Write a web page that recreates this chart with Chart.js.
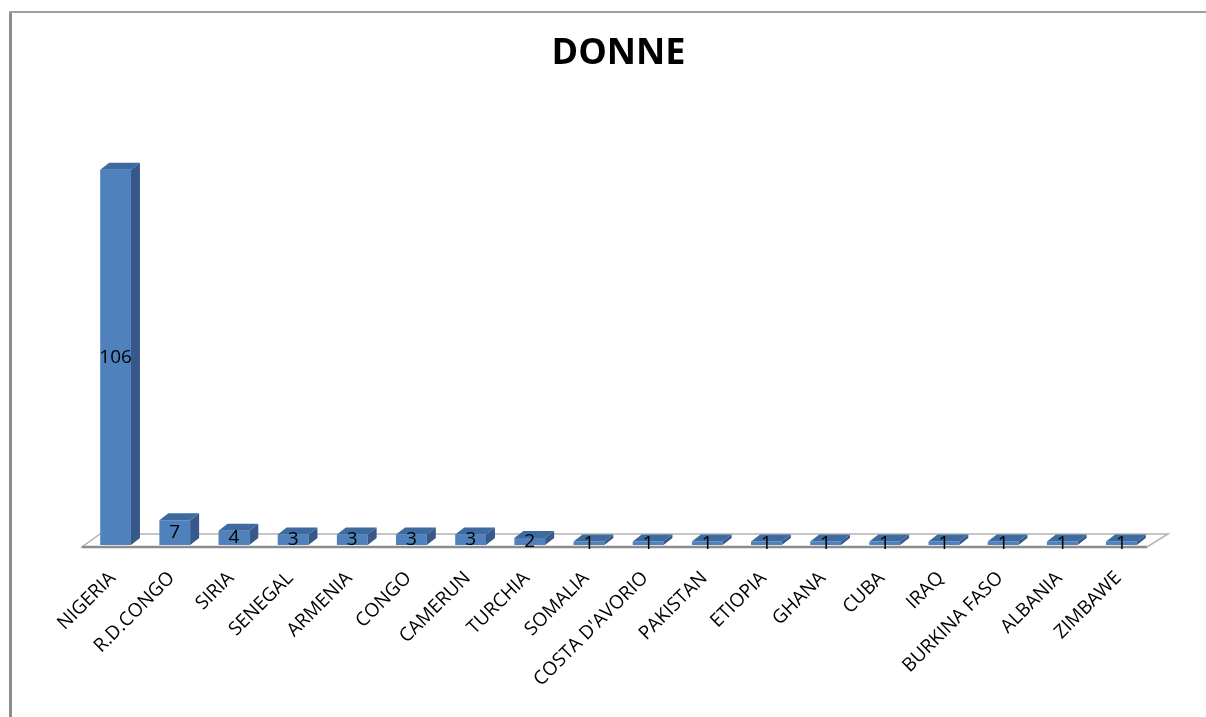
<!DOCTYPE html>
<html>
<head>
<meta charset="utf-8">
<script src="https://cdn.jsdelivr.net/npm/chart.js@4.4.1/dist/chart.umd.min.js"></script>
<style>
  html, body { margin: 0; padding: 0; background: #fff; }
  #wrap { width: 1206px; height: 717px; }
</style>
</head>
<body>
<div id="wrap"><canvas id="myChart" width="1206" height="717"></canvas></div>
<script>
var countries = ["NIGERIA", "R.D.CONGO", "SIRIA", "SENEGAL", "ARMENIA", "CONGO", "CAMERUN", "TURCHIA",
  "SOMALIA", "COSTA D'AVORIO", "PAKISTAN", "ETIOPIA", "GHANA", "CUBA", "IRAQ", "BURKINA FASO",
  "ALBANIA", "ZIMBAWE"];
var donne = [106, 7, 4, 3, 3, 3, 3, 2, 1, 1, 1, 1, 1, 1, 1, 1, 1, 1];
var titleText = "DONNE";

// frame + floor + 3d faces + value labels
var excel3d = {
  id: "excel3d",
  beforeDraw: function(chart){
    var ctx = chart.ctx;
    ctx.save();
    ctx.fillStyle = "#ffffff";
    ctx.fillRect(0, 0, chart.width, chart.height);
    ctx.strokeStyle = "#8c8c8c";
    ctx.lineWidth = 3;
    ctx.beginPath();
    ctx.moveTo(10.5, chart.height);
    ctx.lineTo(10.5, 12);
    ctx.stroke();
    ctx.strokeStyle = "#a0a0a0";
    ctx.lineWidth = 2;
    ctx.beginPath();
    ctx.moveTo(9, 12);
    ctx.lineTo(chart.width, 12);
    ctx.stroke();
    ctx.restore();
  },
  beforeDatasetsDraw: function(chart){
    var ctx = chart.ctx, a = chart.chartArea;
    var fy = a.bottom + 2, by = a.bottom - 11;
    ctx.save();
    ctx.beginPath();
    ctx.moveTo(a.left - 4, fy);
    ctx.lineTo(a.right - 4, fy);
    ctx.lineTo(a.right + 17, by);
    ctx.lineTo(a.left + 14, by);
    ctx.closePath();
    ctx.fillStyle = "#ffffff";
    ctx.fill();
    ctx.strokeStyle = "#b4b4b4";
    ctx.lineWidth = 1.5;
    ctx.stroke();
    ctx.strokeStyle = "#8c8c8c";
    ctx.lineWidth = 2.5;
    ctx.beginPath();
    ctx.moveTo(a.left - 4, fy);
    ctx.lineTo(a.right - 4, fy);
    ctx.stroke();
    ctx.restore();
  },
  afterDatasetsDraw: function(chart){
    var ctx = chart.ctx;
    var meta = chart.getDatasetMeta(0);
    var dx = 9, dy = -7;
    ctx.save();
    meta.data.forEach(function(bar, i){
      var l = bar.x - bar.width / 2, r = bar.x + bar.width / 2;
      var t = bar.y, b = bar.base;
      // side
      ctx.beginPath();
      ctx.moveTo(r, b);
      ctx.lineTo(r, t);
      ctx.lineTo(r + dx, t + dy);
      ctx.lineTo(r + dx, b + dy);
      ctx.closePath();
      ctx.fillStyle = "#36598a";
      ctx.fill();
      // top
      ctx.beginPath();
      ctx.moveTo(l, t);
      ctx.lineTo(r, t);
      ctx.lineTo(r + dx, t + dy);
      ctx.lineTo(l + dx, t + dy);
      ctx.closePath();
      ctx.fillStyle = "#3d6a9f";
      ctx.fill();
      // value label
      ctx.fillStyle = "#000000";
      ctx.font = "19px 'Open Sans'";
      ctx.textAlign = "center";
      ctx.textBaseline = "middle";
      ctx.fillText(String(donne[i]), bar.x, (t + b) / 2);
    });
    ctx.restore();
  }
};

new Chart("myChart", {
  type: "bar",
  data: {
    labels: countries,
    datasets: [{
      data: donne,
      backgroundColor: "#4f81bd",
      borderWidth: 0,
      barPercentage: 0.52,
      categoryPercentage: 1
    }]
  },
  options: {
    responsive: false,
    animation: false,
    layout: { padding: { top: 14, left: 86, right: 55, bottom: 0 } },
    plugins: {
      legend: { display: false },
      tooltip: { enabled: false },
      title: {
        display: true,
        text: titleText,
        color: "#000000",
        font: { family: "'Open Sans'", size: 36, weight: "bold" },
        padding: { top: 18, bottom: 45 }
      }
    },
    scales: {
      x: {
        grid: { display: false },
        border: { display: false },
        ticks: {
          color: "#000000",
          font: { family: "'Open Sans'", size: 19 },
          minRotation: 45,
          maxRotation: 45,
          autoSkip: false,
          padding: 14,
          labelOffset: -3
        },
        afterFit: function(scale){
          scale.height = 172;
          scale.paddingLeft = 0;
          scale.paddingRight = 0;
        }
      },
      y: {
        display: false,
        min: 0,
        max: 120
      }
    }
  },
  plugins: [excel3d]
});
</script>
</body>
</html>
